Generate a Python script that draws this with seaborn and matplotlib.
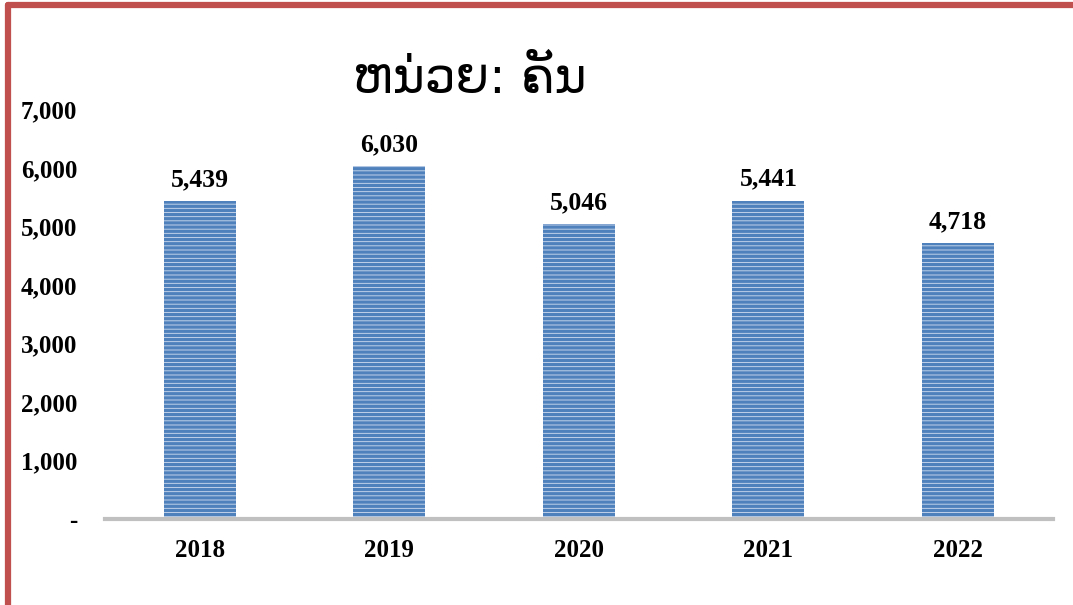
import matplotlib
matplotlib.use("Agg")
import matplotlib.pyplot as plt
import seaborn as sns
import pandas as pd
from matplotlib.lines import Line2D

# === Data ===
years = ["2018", "2019", "2020", "2021", "2022"]
vehicles = [5439, 6030, 5046, 5441, 4718]
title_text = "ຫນ່ວຍ: ຄັນ"

df = pd.DataFrame({"year": years, "vehicles": vehicles})

sns.set_theme(style="white")
plt.rcParams["hatch.linewidth"] = 2.4
plt.rcParams["hatch.color"] = "#4f81bd"
plt.rcParams["text.color"] = "black"

fig = plt.figure(figsize=(10.73, 6.05), dpi=100)
ax = fig.add_axes([0.098, 0.142, 0.883, 0.677])

sns.barplot(data=df, x="year", y="vehicles", ax=ax, color="#d2def0",
            width=0.38, saturation=1)
for p in ax.patches:
    p.set_hatch("----")
    p.set_edgecolor("#4f81bd")
    p.set_linewidth(0)

ax.set_ylim(0, 7000)
ax.set_xlim(-0.5, len(years) - 0.5)
ax.set_yticks(range(0, 7001, 1000))
ax.set_yticklabels(["-"] + [f"{v:,}" for v in range(1000, 7001, 1000)])
ax.set_xlabel("")
ax.set_ylabel("")

serif = {"family": "Liberation Serif", "weight": "bold", "size": 18.5,
         "color": "black"}
for lab in ax.get_yticklabels() + ax.get_xticklabels():
    lab.set_fontfamily("Liberation Serif")
    lab.set_fontweight("bold")
    lab.set_fontsize(18)
    lab.set_color("black")
ax.tick_params(axis="y", length=0, pad=20)
ax.tick_params(axis="x", length=0, pad=14)

for i, v in enumerate(vehicles):
    ax.text(i, v + 170, f"{v:,}", ha="center", va="bottom", fontdict=serif)

for s in ["top", "right", "left"]:
    ax.spines[s].set_visible(False)
ax.spines["bottom"].set_color("#c0c0c0")
ax.spines["bottom"].set_linewidth(3)

fig.text(0.438, 0.87, title_text, ha="center", va="center", fontsize=35,
         color="black", family=["DejaVu Sans", "Noto Sans"])

# red frame (top and left)
fig.add_artist(Line2D([0.0075, 1.0], [0.991, 0.991], color="#c0504d",
                      lw=4.5, transform=fig.transFigure))
fig.add_artist(Line2D([0.0075, 0.0075], [0.0, 0.991], color="#c0504d",
                      lw=4.5, transform=fig.transFigure))

fig.savefig("out.png", dpi=100)
